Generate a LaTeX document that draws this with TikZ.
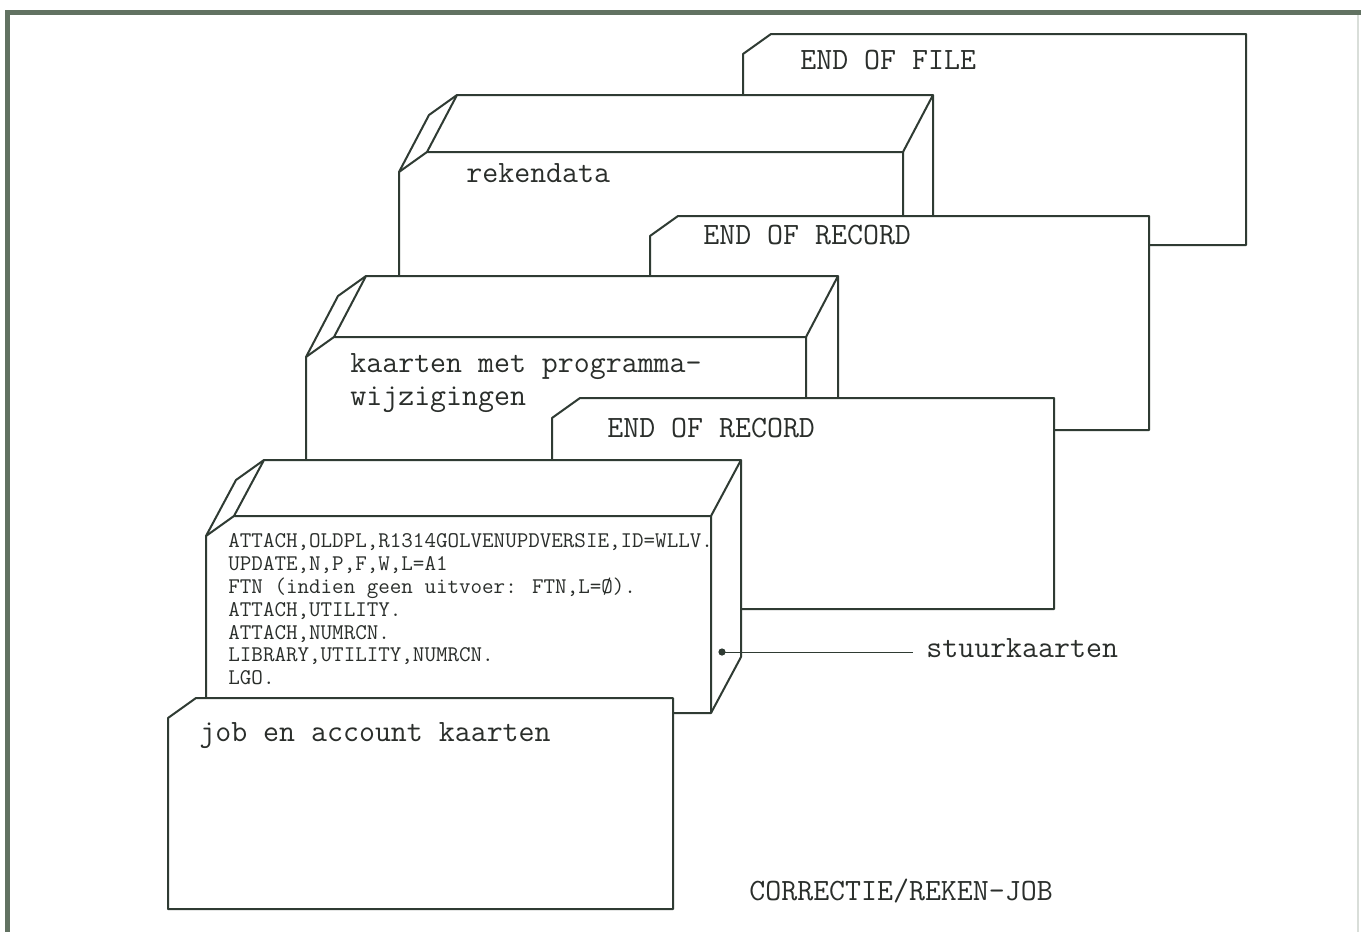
\documentclass[tikz,border=0pt]{standalone}
\usepackage{fontspec}
\definecolor{ink}{HTML}{2F3B33}
\definecolor{txt}{HTML}{2A2E2B}
\definecolor{rim}{HTML}{627262}
\definecolor{faint}{HTML}{D9DED9}
\tikzset{
  card/.style={draw=ink, fill=white, line width=1pt, line join=round},
  edge/.style={draw=ink, line width=1pt, line join=round},
  lbl/.style={anchor=base west, inner sep=0pt, text=txt,
    font=\ttfamily\fontsize{15.5}{15.5}\selectfont},
  ctl/.style={anchor=base west, inner sep=0pt, text=txt,
    font=\ttfamily\fontsize{11.2}{11.2}\selectfont},
}
% a single punched card with its clipped corner: left, right, top, bottom
\newcommand\flatCard[4]{%
  \path[card] (#1,#4) -- (#1,{#3+20}) -- ({#1+28},#3) -- (#2,#3)
    -- (#2,#4) -- cycle;}
% a deck of cards seen in depth: left, right, top, bottom, depth dx, depth dy
\newcommand\cardDeck[6]{%
  \path[card] (#1,#4) -- (#1,{#3+20}) -- ({#1+(#5)},{#3+20+(#6)})
    -- ({#1+28+(#5)},{#3+(#6)}) -- ({#2+(#5)},{#3+(#6)})
    -- ({#2+(#5)},{#4+(#6)}) -- (#2,#4) -- cycle;
  \draw[edge] (#1,{#3+20}) -- ({#1+28},#3) -- (#2,#3) -- (#2,#4);
  \draw[edge] ({#1+28},#3) -- ++(#5,#6);
  \draw[edge] (#2,#3) -- ++(#5,#6);}
\begin{document}
\begin{tikzpicture}[x=0.5pt,y=-0.5pt]
\useasboundingbox (0,0) rectangle (1361,932);
% page frame
\draw[rim, line width=2.5pt, line join=miter] (7.5,932) -- (7.5,12.5) -- (1361,12.5);
\draw[faint, line width=0.6pt] (1358,15) -- (1358,932);

% cards from back to front
\flatCard{743}{1246}{34}{245}
\node[lbl] (eof) at (800,69) {END OF FILE};

\cardDeck{399}{903}{152}{300}{30}{-57}
\node[lbl] (reken) at (466,182) {rekendata};

\flatCard{650}{1149}{216}{430}
\node[lbl] (eorA) at (703,244) {END OF RECORD};

\cardDeck{306}{806}{337}{480}{32}{-61}
\node[lbl] (progA) at (350,372) {kaarten met programma-};
\node[lbl] (progB) at (350,405) {wijzigingen};

\flatCard{552}{1054}{398}{609}
\node[lbl] (eorB) at (607,437) {END OF RECORD};

\cardDeck{206}{711}{516}{713}{30}{-56}
\node[ctl] (c1) at (228,547) {ATTACH,OLDPL,R1314GOLVENUPDVERSIE,ID=WLLV.};
\node[ctl] (c2) at (228,570) {UPDATE,N,P,F,W,L=A1};
\node[ctl] (c3) at (228,593) {FTN (indien geen uitvoer: FTN,L=Ø).};
\node[ctl] (c4) at (228,616) {ATTACH,UTILITY.};
\node[ctl] (c5) at (228,639) {ATTACH,NUMRCN.};
\node[ctl] (c6) at (228,661) {LIBRARY,UTILITY,NUMRCN.};
\node[ctl] (c7) at (228,684) {LGO.};

% pointer to the control cards
\coordinate (dot) at (722,652);
\fill[ink] (dot) circle[radius=1.8pt];
\node[lbl, inner xsep=6.5pt] (stuur) at (913,657) {stuurkaarten};
\draw[ink, line width=0.5pt] (dot) -- (stuur.west |- dot);

\flatCard{168}{673}{698}{909}
\node[lbl] (job) at (199,741) {job en account kaarten};

\node[lbl] (title) at (749,900) {CORRECTIE/REKEN-JOB};
\end{tikzpicture}
\end{document}
